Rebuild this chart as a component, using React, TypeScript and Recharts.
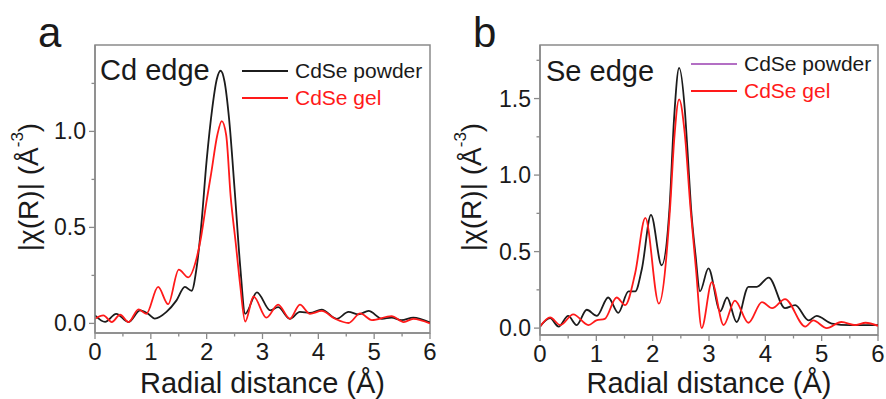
import { LineChart, Line, XAxis, YAxis, ReferenceArea, Legend } from "recharts";

const AXIS = "#8a8a8a";
const TXT = "#1a1a1a";
const FONT = "'Liberation Sans', Arial, sans-serif";

// radial distance ticks (minor every 0.5)
const xTicks = [0, 0.5, 1, 1.5, 2, 2.5, 3, 3.5, 4, 4.5, 5, 5.5, 6];
const cdTicks = [0, 0.25, 0.5, 0.75, 1, 1.25];
const seTicks = [0, 0.25, 0.5, 0.75, 1, 1.25, 1.5, 1.75];

// [R (Å), |chi(R)|]
const cdPowder = [
  [0, 0.042], [0.18, 0.008], [0.38, 0.05], [0.6, 0.007], [0.81, 0.068], [0.95, 0.05],
  [1.07, 0.025], [1.28, 0.06], [1.46, 0.12], [1.61, 0.19], [1.73, 0.17], [1.82, 0.29],
  [1.9, 0.5], [2.0, 0.85], [2.1, 1.12], [2.18, 1.27], [2.25, 1.316], [2.32, 1.26],
  [2.4, 1.07], [2.5, 0.7], [2.6, 0.3], [2.69, 0.05], [2.9, 0.162], [3.14, 0.068],
  [3.28, 0.085], [3.49, 0.024], [3.67, 0.06], [3.85, 0.055], [4.06, 0.072], [4.33, 0.024],
  [4.54, 0.06], [4.72, 0.047], [4.9, 0.065], [5.14, 0.024], [5.31, 0.03], [5.49, 0.017],
  [5.7, 0.03], [6.0, 0.005],
];
const cdGel = [
  [0, 0.024], [0.15, 0.042], [0.3, 0.007], [0.45, 0.045], [0.6, 0.007], [0.78, 0.073],
  [0.92, 0.05], [1.13, 0.19], [1.31, 0.1], [1.5, 0.28], [1.67, 0.24], [1.82, 0.34],
  [1.9, 0.45], [2.0, 0.64], [2.08, 0.78], [2.19, 0.98], [2.27, 1.054], [2.35, 0.98],
  [2.43, 0.66], [2.52, 0.42], [2.6, 0.2], [2.69, 0.01], [2.84, 0.14], [3.07, 0.03],
  [3.28, 0.098], [3.49, 0.024], [3.67, 0.098], [3.85, 0.05], [4.06, 0.065], [4.3, 0.024],
  [4.54, 0.002], [4.75, 0.052], [4.96, 0.017], [5.31, 0.038], [5.53, 0.007], [5.7, 0.024],
  [6.0, 0.0],
];
const sePowder = [
  [0, 0.01], [0.18, 0.065], [0.33, 0.01], [0.5, 0.08], [0.65, 0.02], [0.83, 0.12],
  [1.01, 0.08], [1.21, 0.2], [1.39, 0.1], [1.57, 0.24], [1.69, 0.24], [1.81, 0.39],
  [1.97, 0.74], [2.16, 0.41], [2.3, 0.79], [2.38, 1.37], [2.47, 1.7], [2.57, 1.43],
  [2.62, 1.15], [2.68, 0.79], [2.76, 0.48], [2.84, 0.24], [2.99, 0.39], [3.2, 0.11],
  [3.32, 0.2], [3.49, 0.04], [3.7, 0.27], [3.85, 0.27], [4.06, 0.33], [4.35, 0.13],
  [4.53, 0.15], [4.77, 0.05], [4.91, 0.08], [5.18, 0.03], [5.5, 0.02], [6.0, 0.02],
];
const seGel = [
  [0, 0.01], [0.18, 0.07], [0.36, 0.02], [0.59, 0.09], [0.86, 0.02], [1.0, 0.05],
  [1.15, 0.06], [1.36, 0.2], [1.51, 0.15], [1.69, 0.36], [1.87, 0.72], [2.11, 0.16],
  [2.31, 0.79], [2.38, 1.22], [2.47, 1.495], [2.57, 1.27], [2.67, 0.79], [2.77, 0.38],
  [2.87, 0.0], [3.05, 0.3], [3.26, 0.02], [3.46, 0.18], [3.7, 0.035], [3.94, 0.17],
  [4.12, 0.13], [4.35, 0.19], [4.71, 0.01], [4.85, 0.05], [5.09, 0.0], [5.35, 0.04],
  [5.6, 0.02], [5.78, 0.035], [6.0, 0.015],
];

const seriesNames = ["CdSe powder", "CdSe gel"];

const toPts = (pairs: number[][]) => pairs.map(([r, v]) => ({ r, v }));

function XTick({ x, y, payload }: any) {
  const v = payload.value;
  const major = Number.isInteger(v);
  return (
    <g>
      <line x1={x} x2={x} y1={y} y2={y + (major ? 6 : 3.5)} stroke={AXIS} strokeWidth={1.3} />
      {major && (
        <text x={x} y={y + 27} textAnchor="middle" fontSize={24} fill={TXT} fontFamily={FONT}>
          {v}
        </text>
      )}
    </g>
  );
}

function YTick({ x, y, payload }: any) {
  const v = payload.value;
  const major = Math.abs(v * 2 - Math.round(v * 2)) < 1e-6;
  return (
    <g>
      <line x1={x - (major ? 6 : 3.5)} x2={x} y1={y} y2={y} stroke={AXIS} strokeWidth={1.3} />
      {major && (
        <text x={x - 9} y={y} dy="0.35em" textAnchor="end" fontSize={23} fill={TXT} fontFamily={FONT}>
          {v.toFixed(1)}
        </text>
      )}
    </g>
  );
}

interface PanelProps {
  left: number;
  powder: number[][];
  gel: number[][];
  yDomain: [number, number];
  yTicks: number[];
  marginLeft: number;
  marginRight: number;
  marginBottom: number;
  swatch: string[];
  legendLeft: number;
  legendTop: number;
}

function Panel(p: PanelProps) {
  return (
    <div style={{ position: "absolute", left: p.left, top: 0 }}>
      <LineChart
        width={443}
        height={399}
        margin={{ top: 45, right: p.marginRight, left: p.marginLeft, bottom: p.marginBottom }}
      >
        <XAxis
          dataKey="r"
          type="number"
          domain={[0, 6]}
          ticks={xTicks}
          interval={0}
          allowDataOverflow
          height={60}
          stroke={AXIS}
          strokeWidth={1.5}
          tickLine={false}
          tickSize={0}
          tickMargin={0}
          tick={<XTick />}
          label={{
            content: (props: any) => {
              const vb = props.viewBox || {};
              return (
                <text x={vb.x + vb.width / 2} y={393} textAnchor="middle" fontSize={29} fill={TXT} fontFamily={FONT}>
                  Radial distance (Å)
                </text>
              );
            },
          }}
        />
        <YAxis
          dataKey="v"
          type="number"
          domain={p.yDomain}
          ticks={p.yTicks}
          interval={0}
          allowDataOverflow
          width={60}
          stroke={AXIS}
          strokeWidth={1.5}
          tickLine={false}
          tickSize={0}
          tickMargin={0}
          tick={<YTick />}
          label={{
            content: () => (
              <text
                x={28}
                y={187}
                transform="rotate(-90 28 187)"
                textAnchor="middle"
                dominantBaseline="central"
                fontSize={28}
                fill={TXT}
                fontFamily={FONT}
              >
                |χ(R)| (Å
                <tspan dy={-11} fontSize={17}>-3</tspan>
                <tspan dy={11}>)</tspan>
              </text>
            ),
          }}
        />
        <ReferenceArea
          x1={0}
          x2={6}
          y1={p.yDomain[0]}
          y2={p.yDomain[1]}
          fill="none"
          stroke={AXIS}
          strokeWidth={1.5}
          ifOverflow="visible"
        />
        <Line
          data={toPts(p.powder)}
          dataKey="v"
          name={seriesNames[0]}
          type="monotone"
          stroke="#1c1c1c"
          strokeWidth={1.8}
          dot={false}
          isAnimationActive={false}
        />
        <Line
          data={toPts(p.gel)}
          dataKey="v"
          name={seriesNames[1]}
          type="monotone"
          stroke="#ff1a1a"
          strokeWidth={1.8}
          dot={false}
          isAnimationActive={false}
        />
        <Legend
          layout="vertical"
          align="center"
          verticalAlign="middle"
          wrapperStyle={{ left: p.legendLeft, top: p.legendTop, width: "auto", height: "auto" }}
          content={() => (
            <div style={{ fontFamily: FONT, fontSize: 21 }}>
              {seriesNames.map((n, i) => (
                <div key={n} style={{ display: "flex", alignItems: "center", height: 27, whiteSpace: "nowrap" }}>
                  <span style={{ display: "inline-block", width: 46, height: 2, background: p.swatch[i], marginRight: 7 }} />
                  <span style={{ color: i === 0 ? TXT : "#ff1a1a" }}>{n}</span>
                </div>
              ))}
            </div>
          )}
        />
      </LineChart>
    </div>
  );
}

export default function App() {
  return (
    <div style={{ position: "absolute", left: 0, top: 0, width: 886, height: 399, background: "#fff", overflow: "hidden" }}>
      <Panel
        left={0}
        powder={cdPowder}
        gel={cdGel}
        yDomain={[-0.05, 1.45]}
        yTicks={cdTicks}
        marginLeft={35}
        marginRight={13}
        marginBottom={6}
        swatch={["#1c1c1c", "#ff1a1a"]}
        legendLeft={242}
        legendTop={57}
      />
      <Panel
        left={443}
        powder={sePowder}
        gel={seGel}
        yDomain={[-0.045, 1.85]}
        yTicks={seTicks}
        marginLeft={37}
        marginRight={8}
        marginBottom={4}
        swatch={["#b36fc4", "#ff1a1a"]}
        legendLeft={248}
        legendTop={50}
      />
      <svg width={886} height={399} style={{ position: "absolute", left: 0, top: 0, pointerEvents: "none" }}>
        <text x={38} y={47} fontSize={42} fill={TXT} fontFamily={FONT}>a</text>
        <text x={473} y={47} fontSize={42} fill={TXT} fontFamily={FONT}>b</text>
        <text x={100} y={80} fontSize={29} fill={TXT} fontFamily={FONT}>Cd edge</text>
        <text x={546} y={81} fontSize={29} fill={TXT} fontFamily={FONT}>Se edge</text>
      </svg>
    </div>
  );
}
